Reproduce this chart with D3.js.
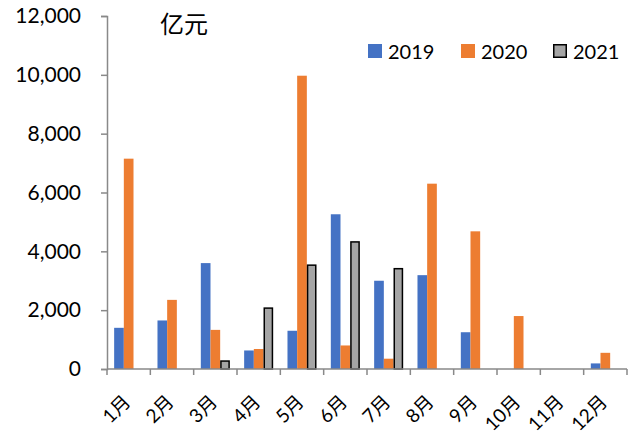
<!DOCTYPE html>
<html>
<head>
<meta charset="utf-8">
<script src="https://cdn.jsdelivr.net/npm/d3@7"></script>
<style>
  html, body { margin: 0; padding: 0; background: #fff; }
  svg { display: block; }
  text { font-family: Lato, "Noto Sans CJK SC", sans-serif; fill: #000; }
</style>
</head>
<body>
<div id="chart"></div>
<script>
// Monthly amounts, 亿元
const months = ["1月","2月","3月","4月","5月","6月","7月","8月","9月","10月","11月","12月"];
const seriesNames = ["2019","2020","2021"];
const values2019 = [1400, 1650, 3600, 630, 1300, 5260, 3000, 3190, 1250, null, null, 190];
const values2020 = [7150, 2350, 1330, 680, 9970, 800, 350, 6300, 4680, 1800, null, 550];
const values2021 = [null, null, 270, 2070, 3530, 4320, 3410, null, null, null, null, null];
const yTicks = [0, 2000, 4000, 6000, 8000, 10000, 12000];
const unitLabel = "亿元";

const colors = { "2019": "#4472c4", "2020": "#ed7d31", "2021": "#a5a5a5" };

const W = 634, H = 435;
const margin = { top: 16, right: 7, bottom: 66, left: 107 };
const innerW = W - margin.left - margin.right;
const innerH = H - margin.top - margin.bottom;

const svg = d3.select("#chart").append("svg")
  .attr("width", W).attr("height", H);
const g = svg.append("g").attr("transform", `translate(${margin.left},${margin.top})`);

const x0 = d3.scaleBand().domain(months).range([0, innerW]).paddingInner(0).paddingOuter(0);
const bw = x0.bandwidth();
const x1 = d3.scaleBand().domain(seriesNames).range([bw * 0.165, bw * 0.835]).padding(0);
const y = d3.scaleLinear().domain([0, 12000]).range([innerH, 0]);

const table = months.map((m, i) => ({
  month: m,
  vals: [
    { key: "2019", v: values2019[i] },
    { key: "2020", v: values2020[i] },
    { key: "2021", v: values2021[i] }
  ]
}));

// bars
const groups = g.selectAll("g.month").data(table).join("g")
  .attr("class", "month")
  .attr("transform", d => `translate(${x0(d.month)},0)`);

groups.selectAll("rect").data(d => d.vals.filter(e => e.v != null)).join("rect")
  .attr("x", d => x1(d.key) + (d.key === "2021" ? 0.75 : 0))
  .attr("width", d => x1.bandwidth() - (d.key === "2021" ? 1.5 : 0))
  .attr("y", d => y(d.v))
  .attr("height", d => y(0) - y(d.v))
  .attr("fill", d => colors[d.key])
  .attr("stroke", d => d.key === "2021" ? "#000" : "none")
  .attr("stroke-width", 1.5);

// y axis
const yAxis = g.append("g")
  .call(d3.axisLeft(y).tickValues(yTicks).tickSize(6).tickPadding(20)
    .tickFormat(d3.format(",")));
yAxis.select(".domain").attr("stroke", "#898989").attr("stroke-width", 1.5);
yAxis.selectAll(".tick line").attr("stroke", "#898989").attr("stroke-width", 1.5);
yAxis.selectAll(".tick text").attr("font-size", 21).attr("font-family", "Lato, sans-serif").attr("fill", "#000");

// x axis: ticks at category boundaries
const xAxisG = g.append("g").attr("transform", `translate(0,${innerH})`);
xAxisG.append("line").attr("x1", 0).attr("x2", innerW).attr("stroke", "#898989").attr("stroke-width", 1.5);
const boundaries = d3.range(months.length + 1).map(i => i * bw);
xAxisG.selectAll("line.tk").data(boundaries).join("line")
  .attr("class", "tk")
  .attr("x1", d => d).attr("x2", d => d)
  .attr("y1", 0).attr("y2", 6)
  .attr("stroke", "#898989").attr("stroke-width", 1.5);
xAxisG.selectAll("text.lbl").data(months).join("text")
  .attr("class", "lbl")
  .attr("text-anchor", "end")
  .attr("font-size", 19)
  .attr("transform", d => `translate(${x0(d) + bw / 2 + 3},${34}) rotate(-45)`)
  .text(d => d);

// unit label
g.append("text")
  .attr("x", 53).attr("y", 17)
  .attr("font-size", 24)
  .attr("font-family", "'Noto Sans CJK SC', sans-serif")
  .text(unitLabel);

// legend
const legendX = [368, 461, 553];
const legend = svg.append("g");
seriesNames.forEach((s, i) => {
  const lg = legend.append("g").attr("transform", `translate(${legendX[i]},44)`);
  lg.append("rect")
    .attr("x", s === "2021" ? 0.75 : 0).attr("y", s === "2021" ? 0.75 : 0)
    .attr("width", s === "2021" ? 12.5 : 14).attr("height", s === "2021" ? 12.5 : 14)
    .attr("fill", colors[s])
    .attr("stroke", s === "2021" ? "#000" : "none")
    .attr("stroke-width", 1.5);
  lg.append("text").attr("x", 20).attr("y", 14.5).attr("font-size", 20).text(s);
});
</script>
</body>
</html>
